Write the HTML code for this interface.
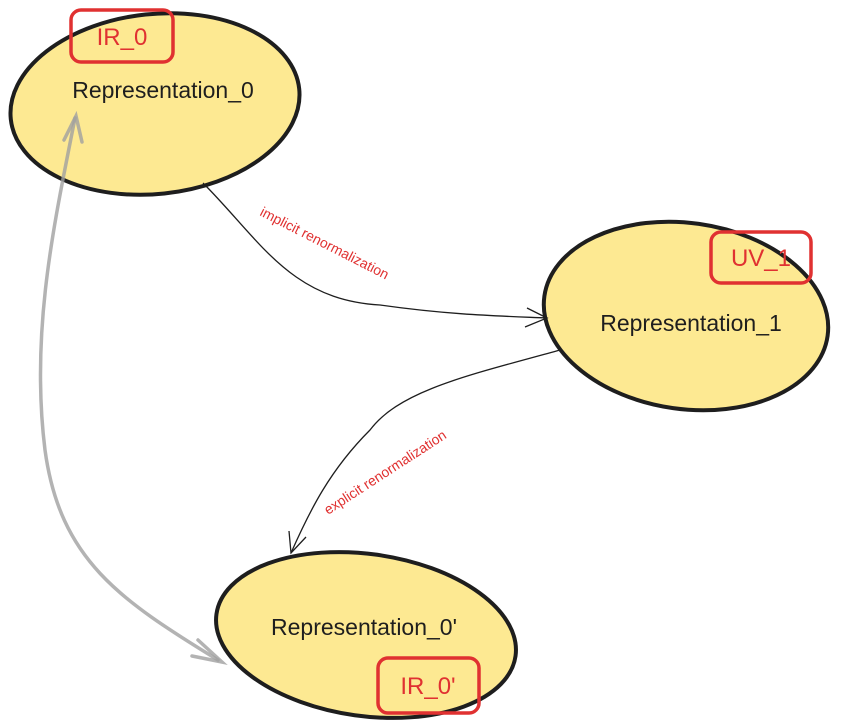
<!DOCTYPE html>
<html><head><meta charset="utf-8"><style>
html,body{margin:0;padding:0;background:#fff;}
svg{display:block;}
text{font-family:"Liberation Sans",sans-serif;}
</style></head><body>
<svg width="859" height="728" viewBox="0 0 859 728" xmlns="http://www.w3.org/2000/svg">
<g fill="#fde992" stroke="#1e1e1e" stroke-width="4">
<ellipse cx="155" cy="104" rx="145" ry="90" transform="rotate(-6 155 104)"/>
<ellipse cx="686" cy="316" rx="143" ry="93" transform="rotate(8 686 316)"/>
<ellipse cx="366" cy="635" rx="151" ry="81" transform="rotate(8 366 635)"/>
</g>
<g fill="none" stroke="#1e1e1e" stroke-width="1.3">
<path d="M203 183 C 260 240, 290 300, 380 305 C 450 315, 500 316, 547 318"/>
<path d="M527 308 L547 318 L525 327"/>
<path d="M560 350 C 470 375, 400 390, 370 430 C 330 470, 310 510, 291 553"/>
<path d="M289 531 L291 553 L306 537"/>
</g>
<g fill="none" stroke="#a0a0a0" stroke-opacity="0.8" stroke-width="3.5" stroke-linecap="round">
<path d="M218 660 C 120 600, 60 560, 45 450 C 30 330, 55 220, 75 118"/>
<path d="M64 140 L76 116 L82 142"/>
<path d="M198 640 L222 662 L192 656"/>
</g>
<g fill="none" stroke="#e03131" stroke-width="3.5">
<rect x="71" y="10" width="102" height="52" rx="10"/>
<rect x="711" y="232" width="100" height="51" rx="10"/>
<rect x="378" y="658" width="101" height="55" rx="10"/>
</g>
<g fill="#e03131" font-size="24">
<text x="122" y="45" text-anchor="middle">IR_0</text>
<text x="761" y="266" text-anchor="middle">UV_1</text>
<text x="428" y="694" text-anchor="middle">IR_0'</text>
</g>
<g fill="#1e1e1e" font-size="23">
<text x="163" y="98" text-anchor="middle">Representation_0</text>
<text x="691" y="331" text-anchor="middle">Representation_1</text>
<text x="364" y="635" text-anchor="middle">Representation_0'</text>
</g>
<g fill="#e03131" font-size="14">
<text x="259" y="215" transform="rotate(27 259 215)">implicit renormalization</text>
<text x="328" y="515" transform="rotate(-33 328 515)">explicit renormalization</text>
</g>
</svg>
</body></html>
